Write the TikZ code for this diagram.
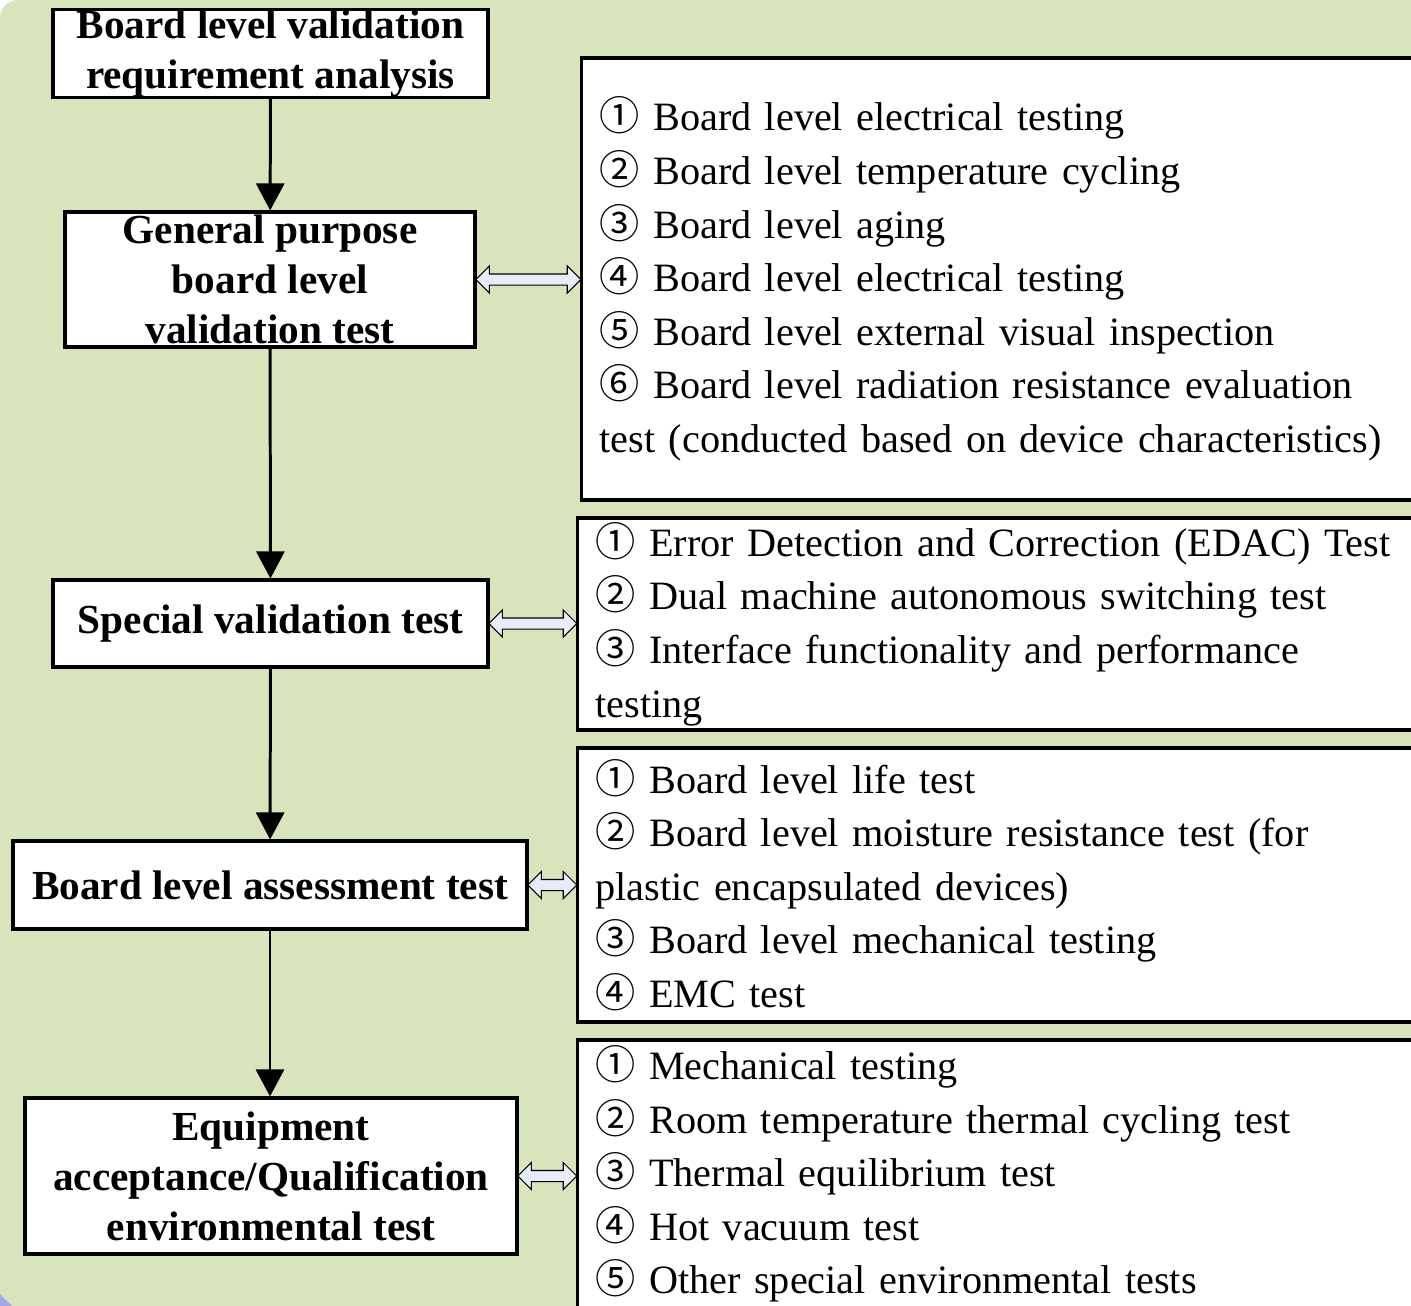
\documentclass[tikz,border=0pt]{standalone}
\usepackage{fontspec}
\setmainfont{Liberation Serif}
\newfontfamily\circfont{Noto Sans CJK SC}
\usetikzlibrary{arrows.meta,shapes.arrows,calc}

\definecolor{bggreen}{HTML}{D8E4BC}
\definecolor{arrowfill}{HTML}{E6ECF8}
\definecolor{cornerblue}{HTML}{A0A8E8}

\newcommand{\circnum}[1]{{\circfont #1}}

\tikzset{
  stagebox/.style={draw, line width=1.8pt, fill=white, align=center, inner sep=0pt,
    font=\bfseries\fontsize{23.5}{28.5}\selectfont},
  itembox/.style={draw, line width=1.8pt, fill=white, align=left, anchor=west,
    inner xsep=0.36cm, inner ysep=0pt, text width=16.4cm,
    font=\fontsize{22.9}{30.5}\selectfont},
  flow/.style={line width=1.7pt, -{Triangle[width=0.56cm,length=0.54cm]}},
  linkarrow/.style={double arrow, draw, line width=0.6pt, fill=arrowfill,
    inner xsep=0pt, inner ysep=0.1cm, double arrow head extend=0.16cm}
}

\begin{document}
\begin{tikzpicture}[x=0.02cm,y=-0.02cm]
  \useasboundingbox (0,0) rectangle (1411,1306);
  \clip (0,0) rectangle (1411,1306);

  % background
  \fill[bggreen] (0,1306) [rounded corners=0.36cm] -- (0,0) [sharp corners] -- (1411,0) -- (1411,1306) -- cycle;
  \fill[cornerblue] (0,1294) -- (12,1306) -- (0,1306) -- cycle;

  % stages
  \node[stagebox, minimum width=8.7cm, minimum height=1.74cm] (b1) at (270.5,53.5)
    {Board level validation\\requirement analysis};
  \node[stagebox, minimum width=8.2cm, minimum height=2.7cm] (b2) at (270,279.5)
    {General purpose\\board level\\validation test};
  \node[stagebox, minimum width=8.7cm, minimum height=1.74cm] (b3) at (270.5,623.5)
    {Special validation test};
  \node[stagebox, minimum width=10.28cm, minimum height=1.76cm] (b4) at (270,885)
    {Board level assessment test};
  \node[stagebox, minimum width=9.84cm, minimum height=3.12cm] (b5) at (271,1176)
    {Equipment\\acceptance/Qualification\\environmental test};

  % test items
  \node[itembox, minimum height=8.84cm] (r1) at (580,279)
    {\circnum{①} Board level electrical testing\\
     \circnum{②} Board level temperature cycling\\
     \circnum{③} Board level aging\\
     \circnum{④} Board level electrical testing\\
     \circnum{⑤} Board level external visual inspection\\
     \circnum{⑥} Board level radiation resistance evaluation\\
     test (conducted based on device characteristics)};
  \node[itembox, minimum height=4.24cm] (r2) at (576,624)
    {\circnum{①} Error Detection and Correction (EDAC) Test\\
     \circnum{②} Dual machine autonomous switching test\\
     \circnum{③} Interface functionality and performance\\
     testing};
  \node[itembox, minimum height=5.48cm] (r3) at (576,885)
    {\circnum{①} Board level life test\\
     \circnum{②} Board level moisture resistance test (for\\
     plastic encapsulated devices)\\
     \circnum{③} Board level mechanical testing\\
     \circnum{④} EMC test};
  \node[itembox, minimum height=5.36cm] (r4) at (576,1174)
    {\circnum{①} Mechanical testing\\
     \circnum{②} Room temperature thermal cycling test\\
     \circnum{③} Thermal equilibrium test\\
     \circnum{④} Hot vacuum test\\
     \circnum{⑤} Other special environmental tests};

  % flow arrows
  \draw[flow] (b1) -- (b2);
  \draw[flow] (b2) -- (b3);
  \draw[flow] (b3) -- (b4);
  \draw[flow] (b4.south) -- (b4.south |- b5.north);

  % links to test items
  \node[linkarrow, minimum height=2.1cm] (l1) at ($(b2.east)!0.5!(r1.west |- b2.east)$) {};
  \node[linkarrow, minimum height=1.76cm] (l2) at ($(b3.east)!0.5!(r2.west |- b3.east)$) {};
  \node[linkarrow, minimum height=0.98cm] (l3) at ($(b4.east)!0.5!(r3.west |- b4.east)$) {};
  \node[linkarrow, minimum height=1.18cm] (l4) at ($(b5.east)!0.5!(r4.west |- b5.east)$) {};
\end{tikzpicture}
\end{document}
